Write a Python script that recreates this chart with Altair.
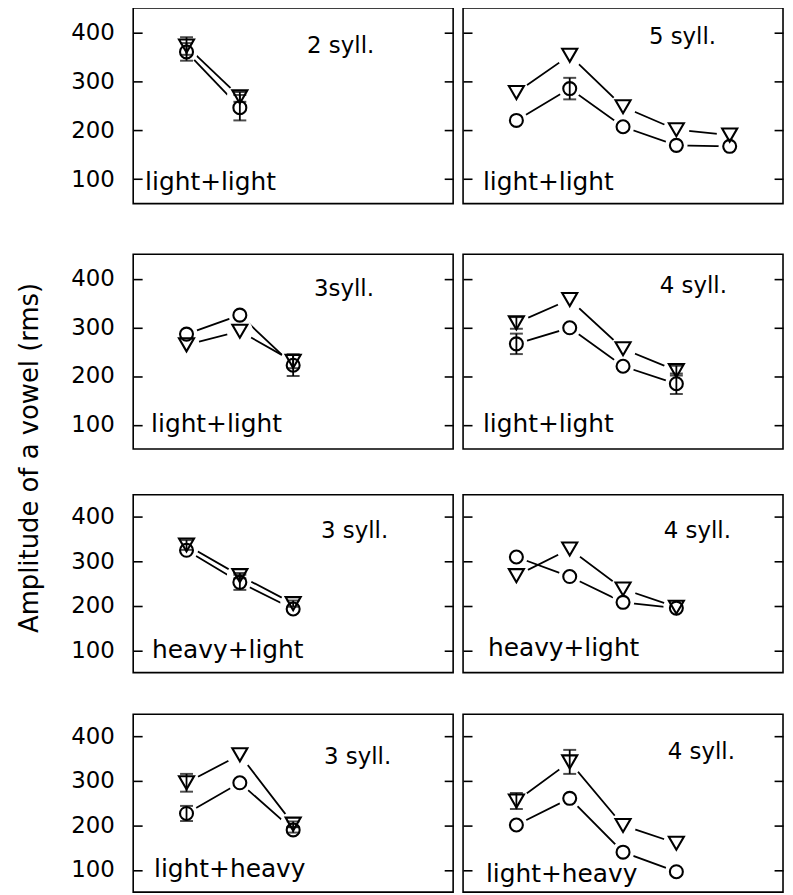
import altair as alt
import pandas as pd

# ---- data (panels in row-major order: left, right) ----
y_title = "Amplitude of a vowel (rms)"
syll_labels = ["2 syll.", "5 syll.", "3syll.", "4 syll.", "3 syll.", "4 syll.", "3 syll.", "4 syll."]
weight_labels = ["light+light", "light+light", "light+light", "light+light",
                 "heavy+light", "heavy+light", "light+heavy", "light+heavy"]
y_ticks = [100, 200, 300, 400]

tri_vals = [
    [372, 268],
    [277, 353, 248, 201, 190],
    [264, 292, 230],
    [309, 357, 256, 211],
    [337, 268, 205],
    [268, 328, 238, 197],
    [296, 359, 203],
    [255, 343, 200, 160],
]
tri_err = [
    [18, 10],
    [0, 0, 0, 0, 0],
    [0, 0, 14],
    [12, 0, 0, 10],
    [11, 6, 7],
    [0, 0, 0, 0],
    [20, 0, 6],
    [18, 27, 0, 0],
]
circ_vals = [
    [360, 246],
    [220, 285, 207, 169, 167],
    [286, 325, 222],
    [266, 299, 220, 184],
    [325, 253, 193],
    [310, 266, 208, 195],
    [227, 296, 190],
    [201, 261, 140, 96],
]
circ_err = [
    [18, 26],
    [0, 22, 0, 0, 0],
    [0, 0, 22],
    [21, 0, 0, 21],
    [0, 17, 0],
    [0, 0, 0, 0],
    [17, 0, 6],
    [0, 0, 0, 0],
]

# ---- layout / style ----
FONT = "DejaVu Sans"
row_heights = [197, 196, 179, 179]
gaps = [47, 42, 38]
panel_w = 322
syll_pos = [(175, 45), (187, 36), (182, 42), (198, 39), (189, 44), (202, 44), (192, 50), (206, 45)]
weight_pos = [(12, 183), (20, 183), (18, 179), (20, 179), (19, 164), (25, 162), (21, 164), (23, 169)]

rows = []
for p in range(8):
    for s, vals, errs in (("tri", tri_vals, tri_err), ("circ", circ_vals, circ_err)):
        for k, (v, e) in enumerate(zip(vals[p], errs[p])):
            rows.append({"panel": p, "series": s, "x": k + 1, "y": v,
                         "lo": v - e, "hi": v + e, "err": e})
df = pd.DataFrame(rows)

yscale = alt.Scale(domain=[50, 450], nice=False, zero=False)
xscale = alt.Scale(domain=[0, 6], nice=False, zero=False)
X = alt.X("x:Q", scale=xscale, axis=None)


def yaxis(orient, labels):
    return alt.Axis(orient=orient, values=y_ticks, offset=-9, tickSize=9, tickWidth=1.6,
                    tickColor="black", domain=False, grid=False, labels=labels,
                    labelPadding=19, labelFont=FONT, labelFontSize=23, labelColor="black")


def panel(p, left_col, h):
    base = alt.Chart(df).transform_filter(alt.datum.panel == p)
    Yn = alt.Y("y:Q", scale=yscale, axis=None)
    lines = base.mark_line(color="black", strokeWidth=1.8).encode(
        x=X, y=alt.Y("y:Q", scale=yscale, axis=yaxis("left", left_col), title=None),
        detail="series:N")
    halo_tri = base.transform_filter(alt.datum.series == "tri").mark_point(
        shape="circle", size=680, filled=True, color="white", opacity=1).encode(
        x=X, y=alt.Y("y:Q", scale=yscale, axis=yaxis("right", False), title=None))
    halo_circ = base.transform_filter(alt.datum.series == "circ").mark_point(
        shape="circle", size=500, filled=True, color="white", opacity=1).encode(x=X, y=Yn)
    eb = base.transform_filter(alt.datum.err > 0)
    bars = eb.mark_rule(color="black", strokeWidth=1.8).encode(
        x=X, y=alt.Y("lo:Q", scale=yscale, axis=None), y2="hi:Q")
    cap_lo = eb.mark_tick(color="black", orient="horizontal", size=13, thickness=2).encode(
        x=X, y=alt.Y("lo:Q", scale=yscale, axis=None))
    cap_hi = eb.mark_tick(color="black", orient="horizontal", size=13, thickness=2).encode(
        x=X, y=alt.Y("hi:Q", scale=yscale, axis=None))
    tri = base.transform_filter(alt.datum.series == "tri").mark_point(
        shape="triangle-down", size=230, filled=False, color="black", strokeWidth=2.1,
        opacity=1).encode(x=X, y=Yn)
    circ = base.transform_filter(alt.datum.series == "circ").mark_point(
        shape="circle", size=170, filled=False, color="black", strokeWidth=2.1,
        opacity=1).encode(x=X, y=Yn)
    t1 = alt.Chart(pd.DataFrame({"t": [syll_labels[p]]})).mark_text(
        align="left", baseline="alphabetic", font=FONT, fontSize=23, color="black").encode(
        text="t:N", x=alt.value(syll_pos[p][0]), y=alt.value(syll_pos[p][1]))
    t2 = alt.Chart(pd.DataFrame({"t": [weight_labels[p]]})).mark_text(
        align="left", baseline="alphabetic", font=FONT, fontSize=25, color="black").encode(
        text="t:N", x=alt.value(weight_pos[p][0]), y=alt.value(weight_pos[p][1]))
    return alt.layer(lines, halo_tri, halo_circ, bars, cap_lo, cap_hi, tri, circ, t1, t2).resolve_axis(
        y="independent").properties(width=panel_w, height=h)


def spacer(g):
    return alt.Chart(pd.DataFrame({"z": [0]})).mark_rule(opacity=0).encode(
        x=alt.value(0), x2=alt.value(0), y=alt.value(0), y2=alt.value(g)).properties(
        width=10, height=g, view=alt.ViewBackground(stroke="transparent"))


grid_rows = []
for r in range(4):
    h = row_heights[r]
    grid_rows.append(alt.hconcat(panel(2 * r, True, h), panel(2 * r + 1, False, h), spacing=6))
    if r < 3:
        grid_rows.append(spacer(gaps[r]))
grid = alt.vconcat(*grid_rows, spacing=0)

title_chart = alt.Chart(pd.DataFrame({"t": [y_title]})).mark_text(
    angle=270, font=FONT, fontSize=26, align="center", baseline="middle", color="black").encode(
    text="t:N", x=alt.value(21), y=alt.value(453)).properties(
    width=60, height=600, view=alt.ViewBackground(stroke="transparent"))

chart = alt.hconcat(title_chart, grid, spacing=0).properties(
    padding={"top": -4, "left": 0, "right": 0, "bottom": 0}).configure_view(
    stroke="black", strokeWidth=1.6)

chart.save("out.html", embed_options={"renderer": "svg", "actions": False})
